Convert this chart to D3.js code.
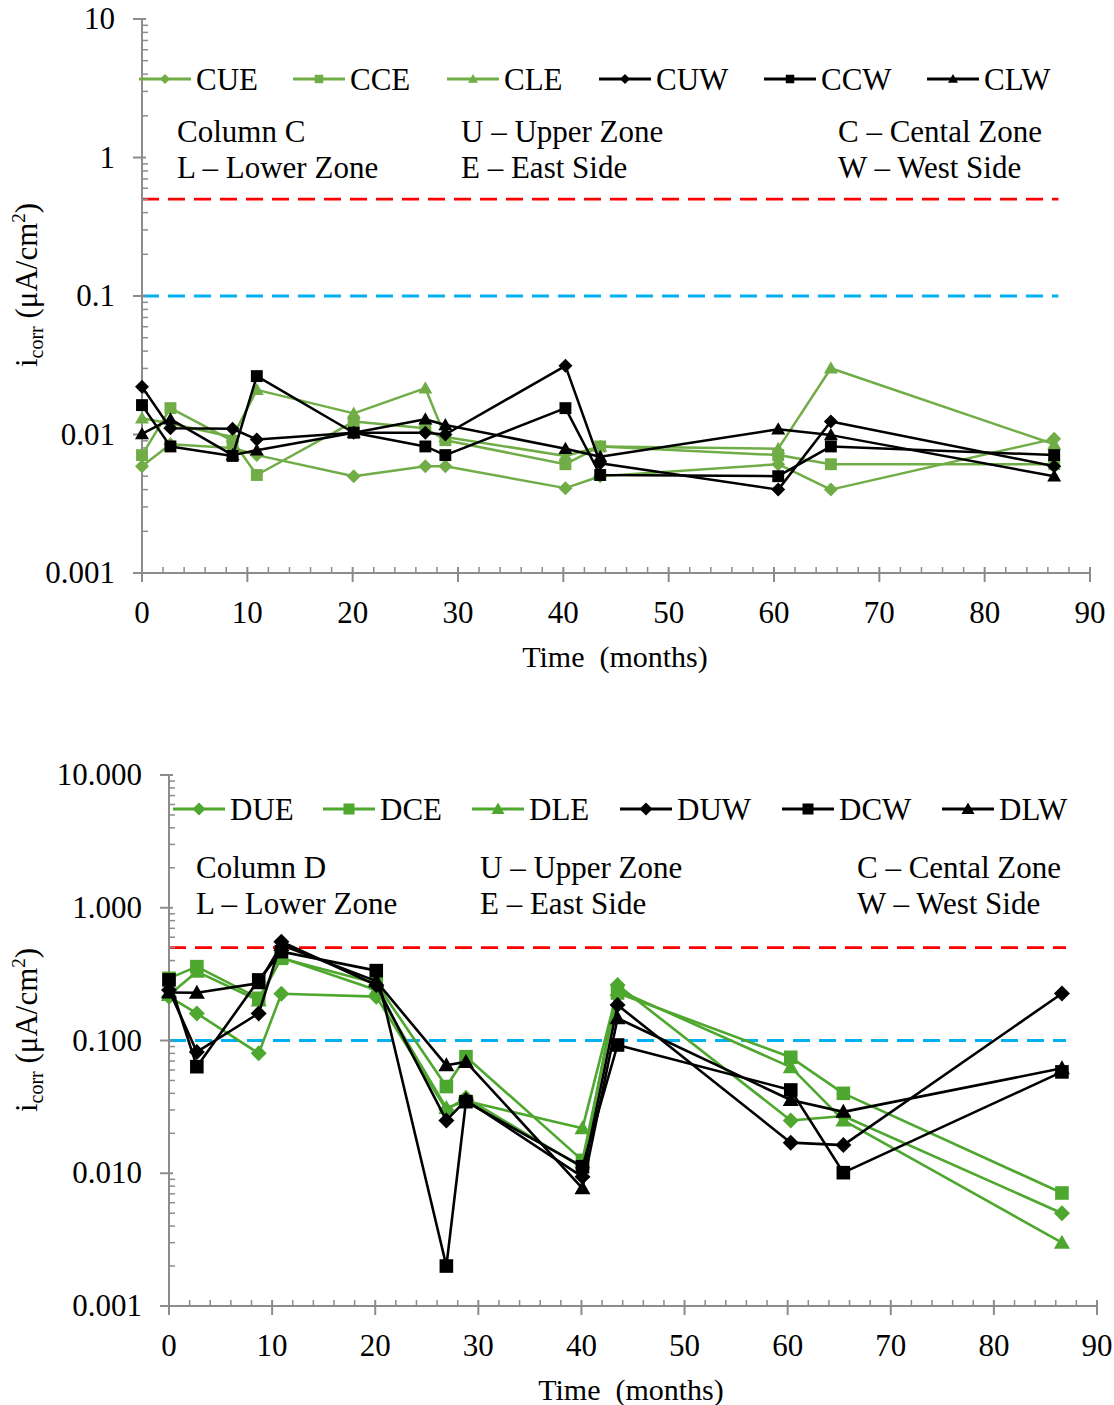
<!DOCTYPE html>
<html>
<head>
<meta charset="utf-8">
<script src="https://cdn.jsdelivr.net/npm/d3@7"></script>
<style>
  html, body { margin: 0; padding: 0; background: #fff; }
  svg { display: block; font-family: "Liberation Serif", "Times New Roman", serif; }
</style>
</head>
<body>
<svg id="chart" width="1114" height="1405"></svg>
<script>
// ---------------- DATA ----------------
const monthsC = [0, 2.7, 8.6, 10.9, 20.1, 26.9, 28.8, 40.2, 43.5, 60.4, 65.4, 86.6];
const monthsD = [0, 2.7, 8.7, 10.9, 20.1, 26.9, 28.8, 40.1, 43.5, 60.3, 65.4, 86.6];

const seriesNamesC = ["CUE", "CCE", "CLE", "CUW", "CCW", "CLW"];
const CUE = [0.0059, 0.0085, 0.0080, 0.0071, 0.0050, 0.0059, 0.0059, 0.0041, 0.0050, 0.0061, 0.0040, 0.0093];
const CCE = [0.0071, 0.0155, 0.0090, 0.0051, 0.0124, 0.0111, 0.0091, 0.0061, 0.0082, 0.0071, 0.0061, 0.0061];
const CLE = [0.0131, 0.0120, 0.0096, 0.0210, 0.0142, 0.0216, 0.0096, 0.0070, 0.0082, 0.0079, 0.0301, 0.0085];
const CUW = [0.0221, 0.0111, 0.0110, 0.0092, 0.0103, 0.0103, 0.0100, 0.0313, 0.0062, 0.0040, 0.0124, 0.0059];
const CCW = [0.0163, 0.0082, 0.0070, 0.0264, 0.0103, 0.0082, 0.0071, 0.0155, 0.0051, 0.0050, 0.0082, 0.0071];
const CLW = [0.0101, 0.0129, 0.0071, 0.0077, 0.0103, 0.0129, 0.0117, 0.0079, 0.0069, 0.0109, 0.0099, 0.0050];

const seriesNamesD = ["DUE", "DCE", "DLE", "DUW", "DCW", "DLW"];
const DUE = [0.214, 0.160, 0.080, 0.225, 0.214, 0.030, 0.037, 0.0110, 0.262, 0.0250, 0.0270, 0.0050];
const DCE = [0.294, 0.360, 0.208, 0.416, 0.270, 0.045, 0.0755, 0.0125, 0.228, 0.0747, 0.0400, 0.0071];
const DLE = [0.220, 0.330, 0.200, 0.420, 0.240, 0.031, 0.035, 0.0218, 0.240, 0.0630, 0.0250, 0.0030];
const DUW = [0.240, 0.082, 0.160, 0.555, 0.262, 0.025, 0.0356, 0.0094, 0.185, 0.0170, 0.0163, 0.226];
const DCW = [0.286, 0.0635, 0.286, 0.467, 0.336, 0.0020, 0.0346, 0.0112, 0.0925, 0.0424, 0.0101, 0.058];
const DLW = [0.230, 0.229, 0.270, 0.524, 0.280, 0.065, 0.069, 0.0077, 0.147, 0.0356, 0.0290, 0.0617];

const thresholdRed = 0.5;
const thresholdBlue = 0.1;

const xTicks = [0, 10, 20, 30, 40, 50, 60, 70, 80, 90];
const yTicks = [0.001, 0.01, 0.1, 1, 10];
const yTickLabelsC = ["0.001", "0.01", "0.1", "1", "10"];
const yTickLabelsD = ["0.001", "0.010", "0.100", "1.000", "10.000"];

const notesC = [["Column C", "L – Lower Zone"], ["U – Upper Zone", "E – East Side"], ["C – Cental Zone", "W – West Side"]];
const notesD = [["Column D", "L – Lower Zone"], ["U – Upper Zone", "E – East Side"], ["C – Cental Zone", "W – West Side"]];

const markerTypes = ["diamond", "square", "triangle", "diamond", "square", "triangle"];

// ---------------- DRAW ----------------
const svg = d3.select("#chart");
const AXIS = "#8c8c8c";

function markerPath(type, r) {
  if (type === "diamond") return `M0,${-r}L${r},0L0,${r}L${-r},0Z`;
  if (type === "square") { const s = r * 0.85; return `M${-s},${-s}H${s}V${s}H${-s}Z`; }
  return `M0,${-r}L${r},${r * 0.75}L${-r},${r * 0.75}Z`;
}

function drawChart(cfg) {
  const g = svg.append("g");
  const x = d3.scaleLinear().domain([0, 90]).range([cfg.x0, cfg.x1]);
  const y = d3.scaleLog().domain([0.001, 10]).range([cfg.y0, cfg.y1]);

  // threshold dashed lines
  [[thresholdRed, "#ff0000"], [thresholdBlue, "#00b0f0"]].forEach(([v, c]) => {
    g.append("line")
      .attr("x1", x(0)).attr("x2", x(87))
      .attr("y1", y(v)).attr("y2", y(v))
      .attr("stroke", c).attr("stroke-width", 2.8)
      .attr("stroke-dasharray", "17,9");
  });

  // Y axis
  const yMinor = [];
  for (let e = -3; e < 1; e++) for (let k = 2; k <= 9; k++) yMinor.push(k * Math.pow(10, e));
  g.append("line").attr("x1", cfg.x0).attr("x2", cfg.x0).attr("y1", cfg.y0).attr("y2", cfg.y1)
    .attr("stroke", AXIS).attr("stroke-width", 2);
  g.selectAll(".ymin").data(yMinor).join("line")
    .attr("x1", cfg.x0).attr("x2", cfg.x0 + 6).attr("y1", d => y(d)).attr("y2", d => y(d))
    .attr("stroke", AXIS).attr("stroke-width", 1.5);
  g.selectAll(".ymaj").data(yTicks).join("line")
    .attr("x1", cfg.x0 - 9).attr("x2", cfg.x0 + 4).attr("y1", d => y(d)).attr("y2", d => y(d))
    .attr("stroke", AXIS).attr("stroke-width", 2);
  g.selectAll(".ylab").data(yTicks).join("text")
    .attr("x", cfg.x0 - 27).attr("y", d => y(d) + 10)
    .attr("text-anchor", "end").attr("font-size", 31).attr("fill", "#000")
    .text((d, i) => cfg.yLabels[i]);

  // X axis
  const xMinor = d3.range(0, 91, 2).filter(v => v % 10 !== 0);
  g.append("line").attr("x1", cfg.x0).attr("x2", cfg.x1).attr("y1", cfg.y0).attr("y2", cfg.y0)
    .attr("stroke", AXIS).attr("stroke-width", 2);
  g.selectAll(".xmin").data(xMinor).join("line")
    .attr("x1", d => x(d)).attr("x2", d => x(d)).attr("y1", cfg.y0).attr("y2", cfg.y0 - 6)
    .attr("stroke", AXIS).attr("stroke-width", 1.5);
  g.selectAll(".xmaj").data(xTicks).join("line")
    .attr("x1", d => x(d)).attr("x2", d => x(d)).attr("y1", cfg.y0 - 6).attr("y2", cfg.y0 + 9)
    .attr("stroke", AXIS).attr("stroke-width", 2);
  g.selectAll(".xlab").data(xTicks).join("text")
    .attr("x", d => x(d)).attr("y", cfg.y0 + 50)
    .attr("text-anchor", "middle").attr("font-size", 31).attr("fill", "#000")
    .text(d => d);

  // axis titles
  g.append("text").attr("x", (cfg.x0 + cfg.x1) / 2 + cfg.xTitleDx).attr("y", cfg.y0 + 94)
    .attr("text-anchor", "middle").attr("font-size", 30).attr("xml:space", "preserve")
    .text("Time  (months)");
  const yt = g.append("text")
    .attr("transform", `translate(37,${cfg.yTitleY}) rotate(-90)`)
    .attr("text-anchor", "middle").attr("font-size", 31);
  yt.append("tspan").text("i");
  yt.append("tspan").attr("font-size", 20).attr("dy", 6).text("corr");
  yt.append("tspan").attr("dy", -6).text(" (μA/cm");
  yt.append("tspan").attr("font-size", 19).attr("dy", -12).text("2");
  yt.append("tspan").attr("dy", 12).text(")");

  // series
  const line = d3.line().x(d => x(d[0])).y(d => y(d[1]));
  cfg.series.forEach((vals, i) => {
    const col = i < 3 ? cfg.green : "#000";
    const pts = cfg.months.map((m, j) => [m, vals[j]]);
    g.append("path").datum(pts).attr("d", line)
      .attr("fill", "none").attr("stroke", col).attr("stroke-width", cfg.lw)
      .attr("stroke-linejoin", "round");
    g.selectAll(null).data(pts).join("path")
      .attr("transform", d => `translate(${x(d[0])},${y(d[1])})`)
      .attr("d", markerPath(markerTypes[i], cfg.mr))
      .attr("fill", col);
  });

  // legend
  cfg.names.forEach((n, i) => {
    const col = i < 3 ? cfg.green : "#000";
    const lx = cfg.legendX[i];
    g.append("line").attr("x1", lx).attr("x2", lx + 52).attr("y1", cfg.legendY).attr("y2", cfg.legendY)
      .attr("stroke", col).attr("stroke-width", 3);
    g.append("path").attr("transform", `translate(${lx + 26},${cfg.legendY})`)
      .attr("d", markerPath(markerTypes[i], cfg.lmr)).attr("fill", col);
    g.append("text").attr("x", lx + 57).attr("y", cfg.legendY + 11)
      .attr("font-size", 31).attr("fill", "#000").text(n);
  });

  // notes
  cfg.notes.forEach((pair, c) => {
    pair.forEach((t, r) => {
      g.append("text").attr("x", cfg.noteX[c]).attr("y", cfg.noteY[r])
        .attr("font-size", 31).attr("fill", "#000").text(t);
    });
  });
}

drawChart({
  x0: 142, x1: 1090, y0: 573, y1: 19,
  months: monthsC, series: [CUE, CCE, CLE, CUW, CCW, CLW], names: seriesNamesC,
  yLabels: yTickLabelsC, green: "#70ad47", lw: 2.5, mr: 7, lmr: 5,
  legendX: [139, 293, 447, 599, 764, 927], legendY: 79,
  notes: notesC, noteX: [177, 461, 838], noteY: [142, 178],
  yTitleY: 285, xTitleDx: -1
});

drawChart({
  x0: 169, x1: 1097, y0: 1306, y1: 775,
  months: monthsD, series: [DUE, DCE, DLE, DUW, DCW, DLW], names: seriesNamesD,
  yLabels: yTickLabelsD, green: "#4ea72e", lw: 2.6, mr: 8, lmr: 6.5,
  legendX: [173, 323, 472, 620, 782, 942], legendY: 809,
  notes: notesD, noteX: [196, 480, 857], noteY: [878, 914],
  yTitleY: 1030, xTitleDx: -2
});
</script>
</body>
</html>
